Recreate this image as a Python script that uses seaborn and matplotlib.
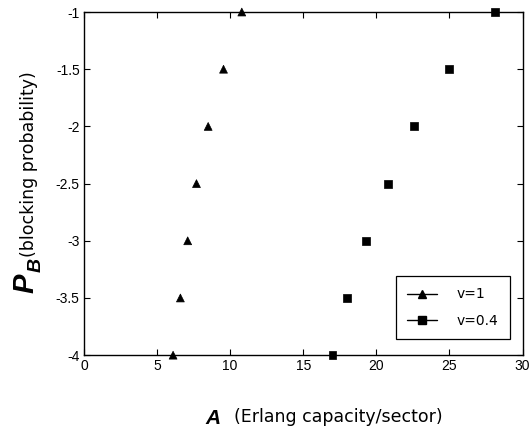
import pandas as pd
import matplotlib
matplotlib.use("Agg")
import matplotlib.pyplot as plt
import seaborn as sns
from matplotlib.lines import Line2D

# values
log_pb = [-4, -3.5, -3, -2.5, -2, -1.5, -1]
a_v1 = [6.1, 6.6, 7.1, 7.7, 8.5, 9.55, 10.8]
a_v04 = [17.0, 18.0, 19.3, 20.8, 22.55, 25.0, 28.1]
series_names = ["v=1", "v=0.4"]
x_ticks = [0, 5, 10, 15, 20, 25, 30]
y_ticks = [-4, -3.5, -3, -2.5, -2, -1.5, -1]

df = pd.DataFrame({
    "A": a_v1 + a_v04,
    "PB": log_pb + log_pb,
    "v": [series_names[0]] * len(a_v1) + [series_names[1]] * len(a_v04),
})

sns.set_style("ticks")
plt.rcParams["font.family"] = ["Liberation Sans", "DejaVu Sans"]
plt.rcParams["text.color"] = "black"

fig = plt.figure(figsize=(5.31, 4.3), dpi=100)
ax = fig.add_axes([0.158, 0.174, 0.826, 0.798])

sns.scatterplot(data=df, x="A", y="PB", hue="v", style="v",
                markers={"v=1": "^", "v=0.4": "s"},
                palette={"v=1": "black", "v=0.4": "black"},
                s=32, edgecolor="black", linewidth=0.5, legend=False,
                clip_on=False, zorder=3, ax=ax)

ax.set_xlim(0, 30)
ax.set_ylim(-4, -1)
ax.set_xticks(x_ticks)
ax.set_yticks(y_ticks)
ax.set_yticklabels([f"{t:g}" for t in y_ticks])
ax.tick_params(direction="in", top=True, right=True, length=4, width=0.8,
               labelsize=10, colors="black", pad=3)
for sp in ax.spines.values():
    sp.set_visible(True)
    sp.set_color("black")
    sp.set_linewidth(1.0)
ax.set_xlabel("")
ax.set_ylabel("")

handles = [
    Line2D([], [], color="black", lw=1, marker="^", markersize=6),
    Line2D([], [], color="black", lw=1, marker="s", markersize=6),
]
leg = ax.legend(handles, series_names, loc="lower right",
                bbox_to_anchor=(0.971, 0.047), borderaxespad=0,
                prop={"family": "DejaVu Sans", "size": 10},
                handlelength=2.2, handletextpad=1.4, borderpad=0.8,
                labelspacing=0.9, fancybox=False, framealpha=1)
leg.get_frame().set_edgecolor("black")
leg.get_frame().set_linewidth(0.9)
for t in leg.get_texts():
    t.set_color("black")

# axis labels built from pieces (big bold italic symbol + plain text)
fig.text(205 / 531, 1 - 418 / 430, "A", fontsize=15, fontweight="bold",
         fontstyle="italic", color="black", ha="left", va="center")
fig.text(234 / 531, 1 - 417 / 430, "(Erlang capacity/sector)", fontsize=12.5,
         family="DejaVu Sans", color="black", ha="left", va="center")

fig.text(25 / 531, 1 - 283 / 430, "P", fontsize=21, fontweight="bold",
         fontstyle="italic", color="black", rotation=90, ha="center", va="center")
fig.text(36 / 531, 1 - 265 / 430, "B", fontsize=14, fontweight="bold",
         fontstyle="italic", color="black", rotation=90, ha="center", va="center")
fig.text(29 / 531, 1 - 257 / 430, "(blocking probability)", fontsize=12.5,
         family="DejaVu Sans", color="black", rotation=90, ha="center", va="bottom")

fig.savefig("out.png", dpi=100)
